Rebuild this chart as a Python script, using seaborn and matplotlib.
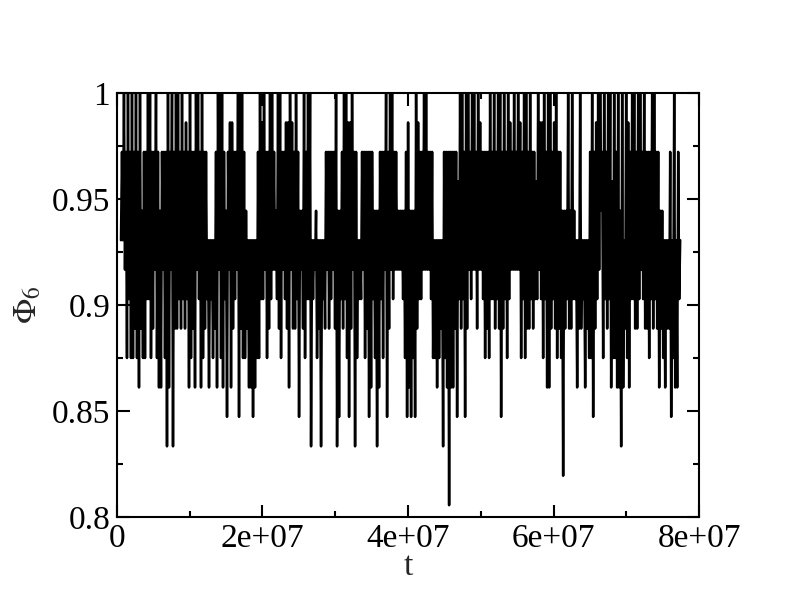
import numpy as np
import pandas as pd
import matplotlib
matplotlib.use("Agg")
import matplotlib.pyplot as plt
from matplotlib.ticker import MultipleLocator, FuncFormatter
import seaborn as sns

# Phi_6 takes values k/72; each time bin holds one low and one high sample
level_den = 72
t_start = 5.5e5      # first sample time
t_step = 1.375e5     # sampling interval

hi_level = [
    70, 72, 70, 72, 70, 72, 70, 72, 70, 72, 68, 70, 70, 72, 72, 70, 70, 72, 70, 68,
    70, 70, 70, 72, 70, 72, 70, 72, 72, 70, 72, 70, 71, 70, 72, 70, 70, 72, 72, 70,
    72, 70, 70, 67, 67, 67, 67, 70, 72, 72, 72, 70, 68, 70, 71, 71, 70, 70, 72, 72,
    72, 70, 68, 67, 67, 67, 67, 67, 70, 72, 71, 72, 70, 70, 72, 72, 70, 68, 72, 72,
    70, 70, 71, 71, 72, 71, 70, 72, 70, 68, 68, 72, 70, 72, 72, 67, 67, 68, 67, 67,
    67, 67, 70, 70, 70, 70, 70, 72, 68, 68, 70, 72, 72, 71, 71, 72, 70, 70, 67, 67,
    70, 70, 70, 70, 70, 70, 68, 68, 68, 70, 70, 70, 72, 70, 72, 72, 70, 70, 68, 68,
    68, 68, 70, 71, 68, 68, 68, 72, 71, 70, 70, 72, 72, 70, 70, 70, 67, 67, 67, 67,
    67, 70, 70, 70, 70, 70, 70, 70, 69, 72, 72, 70, 72, 72, 70, 72, 72, 70, 72, 71,
    70, 70, 70, 70, 72, 70, 72, 70, 72, 72, 70, 72, 70, 72, 71, 70, 72, 70, 72, 71,
    70, 72, 72, 70, 72, 70, 70, 69, 72, 71, 71, 72, 70, 72, 72, 70, 71, 72, 70, 70,
    68, 68, 68, 72, 68, 72, 68, 67, 67, 72, 67, 67, 67, 67, 70, 72, 70, 71, 72, 72,
    70, 72, 70, 72, 72, 69, 72, 70, 72, 68, 72, 67, 72, 71, 70, 72, 72, 70, 72, 72,
    70, 72, 70, 70, 70, 72, 72, 70, 70, 68, 68, 67, 67, 67, 70, 67, 72, 67, 70, 67,
]

lo_level = [
    67, 67, 66, 63, 65, 63, 63, 64, 63, 62, 64, 63, 63, 65, 65, 63, 64, 66, 63, 62,
    62, 66, 63, 60, 62, 66, 60, 64, 64, 65, 64, 65, 64, 65, 62, 63, 64, 62, 66, 65,
    62, 63, 64, 65, 62, 65, 63, 64, 62, 66, 63, 62, 65, 61, 66, 62, 64, 65, 66, 61,
    64, 63, 63, 64, 62, 62, 61, 62, 63, 63, 65, 65, 66, 63, 64, 65, 66, 66, 65, 64,
    63, 66, 65, 64, 62, 66, 64, 64, 65, 61, 66, 64, 63, 65, 65, 60, 65, 66, 63, 64,
    60, 65, 64, 66, 64, 65, 66, 64, 60, 61, 65, 64, 65, 63, 61, 64, 66, 60, 63, 65,
    65, 66, 63, 64, 61, 62, 65, 63, 60, 62, 65, 63, 66, 61, 64, 66, 65, 66, 66, 66,
    66, 65, 63, 61, 62, 61, 63, 61, 64, 65, 65, 66, 66, 66, 66, 65, 63, 63, 62, 63,
    64, 60, 63, 62, 58, 62, 62, 64, 61, 65, 64, 65, 61, 64, 66, 65, 66, 66, 64, 66,
    66, 65, 63, 64, 63, 65, 65, 64, 65, 64, 61, 64, 65, 63, 65, 66, 66, 66, 66, 66,
    63, 65, 63, 64, 64, 65, 64, 65, 65, 66, 65, 63, 65, 62, 62, 64, 65, 64, 63, 64,
    63, 59, 64, 65, 64, 64, 65, 65, 62, 64, 64, 65, 62, 64, 63, 63, 61, 64, 65, 66,
    68, 63, 65, 64, 65, 62, 63, 63, 62, 62, 60, 62, 64, 63, 62, 65, 65, 64, 64, 65,
    66, 65, 64, 64, 63, 65, 64, 65, 64, 62, 64, 63, 62, 64, 64, 61, 63, 62, 62, 65,
]

x_ticks = [0, 2e7, 4e7, 6e7, 8e7]
y_ticks = [0.8, 0.85, 0.9, 0.95, 1.0]

# interleave low/high samples into one time series
levels = np.column_stack([lo_level, hi_level]).ravel()
phi = levels / level_den
t = t_start + np.arange(len(phi)) * t_step
df = pd.DataFrame({"t": t, "phi6": phi})

sns.set_style("ticks")
plt.rcParams["font.family"] = ["Liberation Serif", "DejaVu Serif"]
plt.rcParams["mathtext.fontset"] = "stix"

fig = plt.figure(figsize=(7.92, 6.09), dpi=100)
ax = fig.add_axes([0.1477, 0.1511, 0.7349, 0.6962])

sns.lineplot(data=df, x="t", y="phi6", color="black", linewidth=1.8,
             estimator=None, sort=False, ax=ax)

ax.set_xlim(0, 8e7)
ax.set_ylim(0.8, 1.0)
ax.set_xticks(x_ticks)
ax.set_yticks(y_ticks)
ax.xaxis.set_minor_locator(MultipleLocator(1e7))
ax.yaxis.set_minor_locator(MultipleLocator(0.025))
ax.xaxis.set_major_formatter(FuncFormatter(lambda v, p: "%g" % v))
ax.yaxis.set_major_formatter(FuncFormatter(lambda v, p: "%g" % v))

ax.tick_params(which="both", direction="in", top=True, right=True,
               width=1.5, labelsize=24, colors="black")
ax.tick_params(which="major", length=9, pad=5)
ax.tick_params(which="minor", length=4.5)
for s in ax.spines.values():
    s.set_linewidth(1.5)
    s.set_color("black")

ax.set_xlabel("t", fontsize=24, labelpad=-2)
ax.set_ylabel(r"$\Phi_6$", fontsize=24, labelpad=6)

fig.savefig("out.png", dpi=100)
